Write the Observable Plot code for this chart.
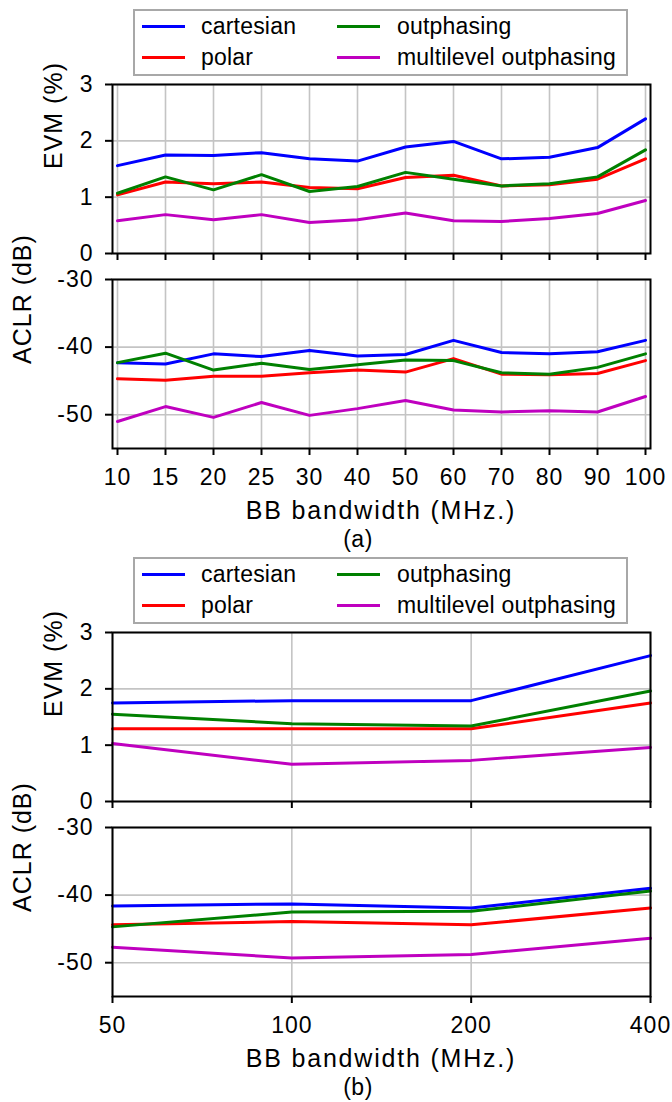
<!DOCTYPE html>
<html><head><meta charset="utf-8">
<script src="https://cdn.jsdelivr.net/npm/d3@7"></script>
<script src="https://cdn.jsdelivr.net/npm/@observablehq/plot@0.6"></script>
<style>
body{margin:0;background:#fff;}
#root{position:relative;width:672px;height:1102px;overflow:hidden;font-family:"Liberation Sans",Arial,sans-serif;color:#000;}
#root svg{position:absolute;left:0;overflow:visible;}
#root svg text{letter-spacing:1px;}
.legend{position:absolute;border:2px solid #a8a8a8;box-sizing:border-box;background:#fff;}
.item{position:absolute;font-size:23px;line-height:26px;white-space:nowrap;letter-spacing:0.2px;}
.swatch{position:absolute;height:3px;width:43px;}
.cap{position:absolute;white-space:nowrap;transform:translate(-50%,-50%);}
</style></head>
<body><div id="root"></div>
<script>
// ---- data ----
const seriesNames = ["cartesian", "polar", "outphasing", "multilevel outphasing"];
const seriesColors = ["#0000ff", "#ff0000", "#008000", "#bf00bf"];

// figure (a)
const bwA = [10, 15, 20, 25, 30, 40, 50, 60, 70, 80, 90, 100];
const evmA_cartesian  = [1.56, 1.75, 1.74, 1.79, 1.68, 1.64, 1.89, 1.99, 1.68, 1.71, 1.88, 2.39];
const evmA_polar      = [1.04, 1.27, 1.24, 1.27, 1.17, 1.15, 1.35, 1.39, 1.20, 1.22, 1.32, 1.68];
const evmA_outphasing = [1.07, 1.36, 1.13, 1.40, 1.10, 1.19, 1.44, 1.32, 1.20, 1.24, 1.36, 1.84];
const evmA_multilevel = [0.58, 0.69, 0.60, 0.69, 0.55, 0.60, 0.72, 0.58, 0.57, 0.62, 0.71, 0.94];
const aclrA_cartesian  = [-42.3, -42.5, -41.0, -41.4, -40.5, -41.3, -41.1, -39.0, -40.8, -41.0, -40.7, -39.0];
const aclrA_polar      = [-44.7, -44.9, -44.3, -44.3, -43.8, -43.4, -43.7, -41.7, -44.0, -44.1, -43.9, -42.0];
const aclrA_outphasing = [-42.3, -40.9, -43.4, -42.4, -43.3, -42.6, -41.9, -42.0, -43.8, -44.0, -43.0, -41.0];
const aclrA_multilevel = [-51.0, -48.8, -50.4, -48.2, -50.1, -49.1, -47.9, -49.3, -49.6, -49.4, -49.6, -47.3];

// figure (b)
const bwB = [50, 100, 200, 400];
const evmB_cartesian  = [1.75, 1.79, 1.79, 2.59];
const evmB_polar      = [1.29, 1.29, 1.29, 1.75];
const evmB_outphasing = [1.55, 1.38, 1.34, 1.96];
const evmB_multilevel = [1.03, 0.66, 0.73, 0.96];
const aclrB_cartesian  = [-41.6, -41.3, -41.9, -39.0];
const aclrB_polar      = [-44.4, -43.9, -44.4, -41.9];
const aclrB_outphasing = [-44.7, -42.5, -42.4, -39.4];
const aclrB_multilevel = [-47.7, -49.3, -48.8, -46.4];

const evmTicks = [0, 1, 2, 3];
const aclrTicks = [-50, -40, -30];
const xLabel = "BB bandwidth (MHz.)";
const evmLabel = "EVM (%)";
const aclrLabel = "ACLR (dB)";

// ---- helpers ----
function rows(xs, lists) {
  const out = [];
  lists.forEach((vals, k) => vals.forEach((v, i) => out.push({bw: xs[i], value: v, series: seriesNames[k]})));
  return out;
}

const root = document.getElementById("root");

function panel({top, data, xScale, xTicks, yDomain, yTicks, yLabel, yLabelDx, showX, marginBottom}) {
  const frameH = 169, marginTop = 24;
  const svg = Plot.plot({
    width: 672,
    height: marginTop + frameH + marginBottom,
    marginLeft: 112, marginRight: 22, marginTop, marginBottom,
    style: {fontFamily: "'Liberation Sans', Arial, sans-serif", fontSize: "23px", color: "#000", background: "transparent"},
    x: xScale,
    y: {domain: yDomain},
    color: {domain: seriesNames, range: seriesColors},
    marks: [
      Plot.gridX(xTicks, {stroke: "#c4c4c4", strokeOpacity: 1, strokeWidth: 1.6}),
      Plot.gridY(yTicks, {stroke: "#c4c4c4", strokeOpacity: 1, strokeWidth: 1.6}),
      Plot.line(data, {x: "bw", y: "value", z: "series", stroke: "series", strokeWidth: 3}),
      Plot.frame({stroke: "#000", strokeWidth: 2}),
      Plot.axisY(yTicks, {tickSize: 7, tickPadding: 12, strokeWidth: 2, tickFormat: d => String(d), label: null, fontSize: 23}),
      Plot.axisX(xTicks, {tickSize: 7, tickPadding: 13, strokeWidth: 2, tickFormat: showX ? (d => String(d)) : (() => ""), label: null, fontSize: 23}),
      Plot.text([yLabel], {text: d => d, frameAnchor: "left", dx: yLabelDx, rotate: -90, fontSize: 25})
    ]
  });
  svg.style.top = (top - marginTop) + "px";
  root.appendChild(svg);
}

function legend(top) {
  const box = document.createElement("div");
  box.className = "legend";
  Object.assign(box.style, {left: "133px", top: top + "px", width: "495px", height: "67px"});
  root.appendChild(box);
  const pos = [[0, 0], [0, 1], [1, 0], [1, 1]]; // [col,row] for cartesian, polar, outphasing, multilevel
  seriesNames.forEach((name, k) => {
    const [c, r] = pos[k];
    const cy = top + 17 + r * 31;
    const sw = document.createElement("div");
    sw.className = "swatch";
    Object.assign(sw.style, {left: (142 + c * 195) + "px", top: (cy - 1.5) + "px", background: seriesColors[k]});
    root.appendChild(sw);
    const t = document.createElement("div");
    t.className = "item";
    t.textContent = name;
    Object.assign(t.style, {left: (201 + c * 196) + "px", top: (cy - 13) + "px"});
    root.appendChild(t);
  });
}

function caption(text, x, y, size, spacing) {
  const d = document.createElement("div");
  d.className = "cap";
  d.textContent = text;
  Object.assign(d.style, {left: x + "px", top: y + "px", fontSize: size + "px", letterSpacing: spacing + "px"});
  root.appendChild(d);
}

function figure(off, xs, xScale, evmLists, aclrLists, tag) {
  legend(9 + off);
  panel({top: 84 + off, data: rows(xs, evmLists), xScale, xTicks: xs, yDomain: [0, 3], yTicks: evmTicks,
         yLabel: evmLabel, yLabelDx: -59, showX: false, marginBottom: 15});
  panel({top: 279 + off, data: rows(xs, aclrLists), xScale, xTicks: xs, yDomain: [-55, -30], yTicks: aclrTicks,
         yLabel: aclrLabel, yLabelDx: -90, showX: true, marginBottom: 50});
  caption(xLabel, 381, 510 + off, 25, 1.8);
  caption(tag, 358, 539 + off, 23, 0.5);
}

figure(0, bwA, {type: "point", domain: bwA, padding: 0},
  [evmA_cartesian, evmA_polar, evmA_outphasing, evmA_multilevel],
  [aclrA_cartesian, aclrA_polar, aclrA_outphasing, aclrA_multilevel], "(a)");
figure(548, bwB, {type: "log", base: 2, domain: [50, 400]},
  [evmB_cartesian, evmB_polar, evmB_outphasing, evmB_multilevel],
  [aclrB_cartesian, aclrB_polar, aclrB_outphasing, aclrB_multilevel], "(b)");
</script>
</body></html>
